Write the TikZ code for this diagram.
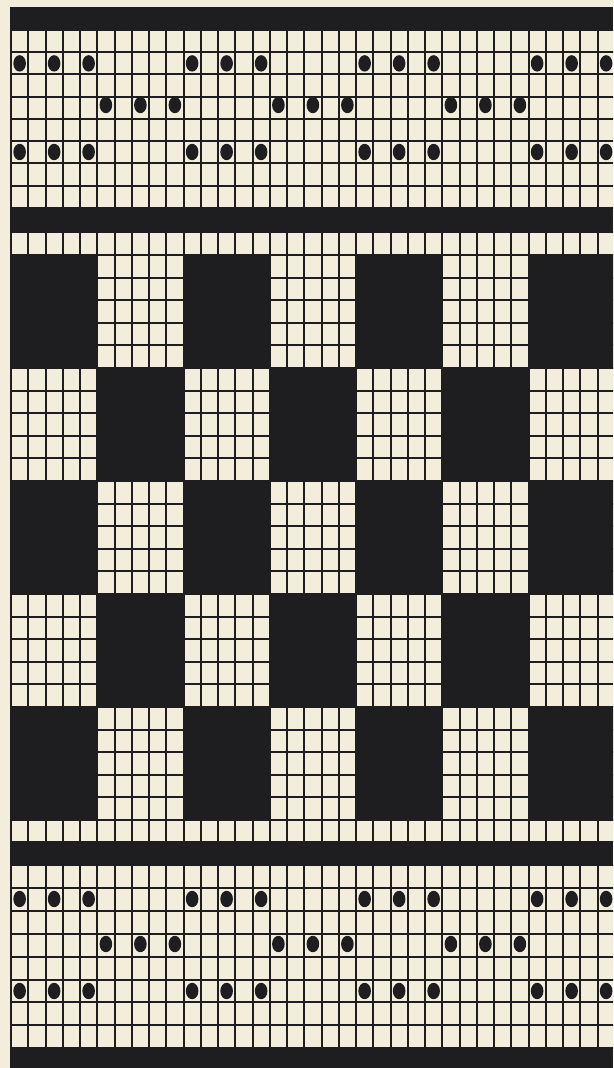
\documentclass[tikz,border=0pt]{standalone}
\definecolor{paperbg}{RGB}{243,237,220}
\definecolor{ink}{RGB}{30,30,32}

\begin{document}
\begin{tikzpicture}[x=0.5mm,y=-0.5mm]
\tikzset{
  gridline/.style={draw=ink,line width=1mm,line cap=rect},
  inkband/.style={fill=ink},
  stitchdot/.style={fill=ink}
}
\useasboundingbox[fill=paperbg] (0,0) rectangle (613,1068);
\clip (0,0) rectangle (613,1068);
\def\xo{11}
\def\cw{17.25}
% vertical lines of the chart
\foreach \i in {0,...,35}
  \draw[gridline] (\xo+\cw*\i,30) -- (\xo+\cw*\i,1048);
% horizontal lines
\foreach \k in {0,...,8}
  \draw[gridline] (\xo,30+22.25*\k) -- (613,30+22.25*\k);
\draw[gridline] (\xo,232) -- (613,232);
\foreach \k in {0,...,25}
  \draw[gridline] (\xo,255+22.6*\k) -- (613,255+22.6*\k);
\draw[gridline] (\xo,842) -- (613,842);
\foreach \k in {0,...,8}
  \draw[gridline] (\xo,865+22.9*\k) -- (613,865+22.9*\k);
% dark bands
\fill[inkband] (\xo-1,7) rectangle (613,30);
\fill[inkband] (\xo-1,208) rectangle (613,232);
\fill[inkband] (\xo-1,842) rectangle (613,865);
\fill[inkband] (\xo-1,1048) rectangle (613,1068);
% checkerboard blocks
\foreach \r in {0,...,4}
  \foreach \c in {0,...,6} {
    \pgfmathparse{int(mod(\r+\c,2))}
    \ifnum\pgfmathresult=0
      \fill[inkband] (\xo+5*\cw*\c-0.5,255+113*\r-0.5) rectangle (\xo+5*\cw*\c+5*\cw+0.5,255+113*\r+113+0.5);
    \fi
  }
% stitch dots
\foreach \p in {0,...,3} {
  \foreach \d in {0,2,4} {
    \fill[stitchdot] (\xo+\cw*10*\p+\cw*\d+\cw/2,63.4) ellipse (6.3 and 8.2);
    \fill[stitchdot] (\xo+\cw*10*\p+\cw*\d+\cw/2,152) ellipse (6.3 and 8.2);
    \fill[stitchdot] (\xo+\cw*10*\p+\cw*\d+\cw/2,899) ellipse (6.3 and 8.2);
    \fill[stitchdot] (\xo+\cw*10*\p+\cw*\d+\cw/2,991) ellipse (6.3 and 8.2);
  }
  \foreach \d in {5,7,9} {
    \fill[stitchdot] (\xo+\cw*10*\p+\cw*\d+\cw/2,105) ellipse (6.3 and 8.2);
    \fill[stitchdot] (\xo+\cw*10*\p+\cw*\d+\cw/2,944) ellipse (6.3 and 8.2);
  }
}
\end{tikzpicture}
\end{document}
